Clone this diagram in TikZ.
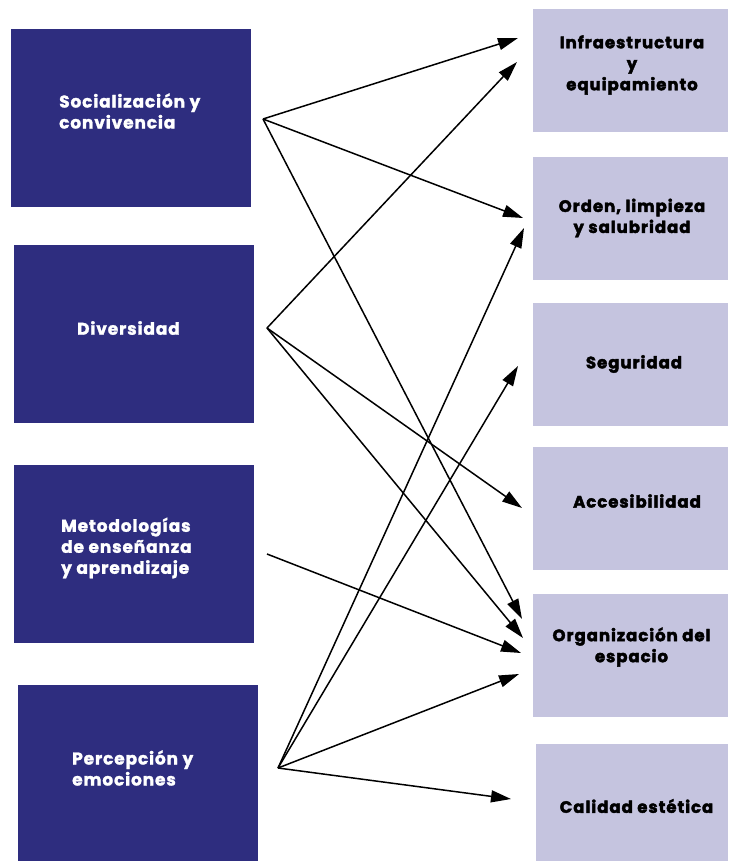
\documentclass[tikz,border=0pt]{standalone}
\usepackage{fontspec}
\setmainfont{Poppins}
\newfontfamily\leftfont{Poppins}[BoldFeatures={FakeBold=1.5,LetterSpace=5}]
\newfontfamily\rightfont{Poppins}[BoldFeatures={FakeBold=2.5,LetterSpace=6}]
\usetikzlibrary{positioning,arrows.meta}
\definecolor{navy}{RGB}{46,45,127}
\definecolor{lavender}{RGB}{197,196,223}

\begin{document}
\begin{tikzpicture}[x=1pt,y=1pt,yscale=-1,xscale=1,
    leftbox/.style={fill=navy,draw=none,inner sep=0pt,minimum width=240pt,minimum height=178pt},
    rightbox/.style={fill=lavender,draw=none,inner sep=0pt,minimum width=195pt,minimum height=123pt},
    lefttext/.style={text=white,font=\leftfont\bfseries\fontsize{17}{21}\selectfont,align=left,inner sep=0pt,anchor=west},
    righttext/.style={text=black,font=\rightfont\bfseries\fontsize{16.5}{21}\selectfont,align=center,inner sep=0pt},
    link/.style={line width=1.5pt,-{Triangle[length=20pt,width=12pt]}}]
    \useasboundingbox (0,0) rectangle (728,861);

    %Shape: Rectangle (left column)
    \node[leftbox] (soc) at (131,118) {};
    \node[leftbox] (div) at (134,334) {};
    \node[leftbox] (met) at (134,554) {};
    \node[leftbox,minimum height=176pt] (per) at (138,773) {};
    %Shape: Rectangle (right column)
    \node[rightbox] (infra) at (630.5,70.5) {};
    \node[rightbox] (orden) at (630.5,218.5) {};
    \node[rightbox] (seg) at (630.5,364.5) {};
    \node[rightbox] (acc) at (630.5,508) {};
    \node[rightbox] (org) at (630.5,655.5) {};
    \node[rightbox,minimum width=192pt,minimum height=118pt] (cal) at (632,802.5) {};

    % Text Node
    \node[lefttext] (soc-t) at (59,111) {Socialización y\\convivencia};
    \node[lefttext] (div-t) at (77,328) {Diversidad};
    \node[lefttext] (met-t) at (61,548) {Metodologías\\de enseñanza\\y aprendizaje};
    \node[lefttext] (per-t) at (72,768) {Percepción y\\emociones};
    % Text Node
    \node[righttext] (infra-t) at (632,65) {Infraestructura\\y\\equipamiento};
    \node[righttext] (orden-t) at (632,218) {Orden, limpieza\\y salubridad};
    \node[righttext] (seg-t) at (634,364) {Seguridad};
    \node[righttext] (acc-t) at (637,501) {Accesibilidad};
    \node[righttext] (org-t) at (631.5,647) {Organización del\\espacio};
    \node[righttext] (cal-t) at (636.5,806) {Calidad estética};

    %Straight Lines: start points
    \coordinate (soc-out) at (263,119);
    \coordinate (div-out) at (267,328);
    \coordinate (met-out) at (267,554);
    \coordinate (per-out) at (278,768);
    %Straight Lines: arrow tips
    \coordinate (infra-in1) at (518,38);
    \coordinate (infra-in2) at (517,62);
    \coordinate (orden-in1) at (523,218);
    \coordinate (orden-in2) at (524,228);
    \coordinate (seg-in) at (518,366);
    \coordinate (acc-in) at (522,508);
    \coordinate (org-in1) at (522,619);
    \coordinate (org-in2) at (523,638);
    \coordinate (org-in3) at (521,653);
    \coordinate (org-in4) at (519,674);
    \coordinate (cal-in) at (511,799);

    \draw[link] (soc-out) -- (infra-in1);
    \draw[link] (soc-out) -- (orden-in1);
    \draw[link] (soc-out) -- (org-in1);
    \draw[link] (div-out) -- (infra-in2);
    \draw[link] (div-out) -- (acc-in);
    \draw[link] (div-out) -- (org-in2);
    \draw[link] (met-out) -- (org-in3);
    \draw[link] (per-out) -- (orden-in2);
    \draw[link] (per-out) -- (seg-in);
    \draw[link] (per-out) -- (org-in4);
    \draw[link] (per-out) -- (cal-in);

\end{tikzpicture}
\end{document}
